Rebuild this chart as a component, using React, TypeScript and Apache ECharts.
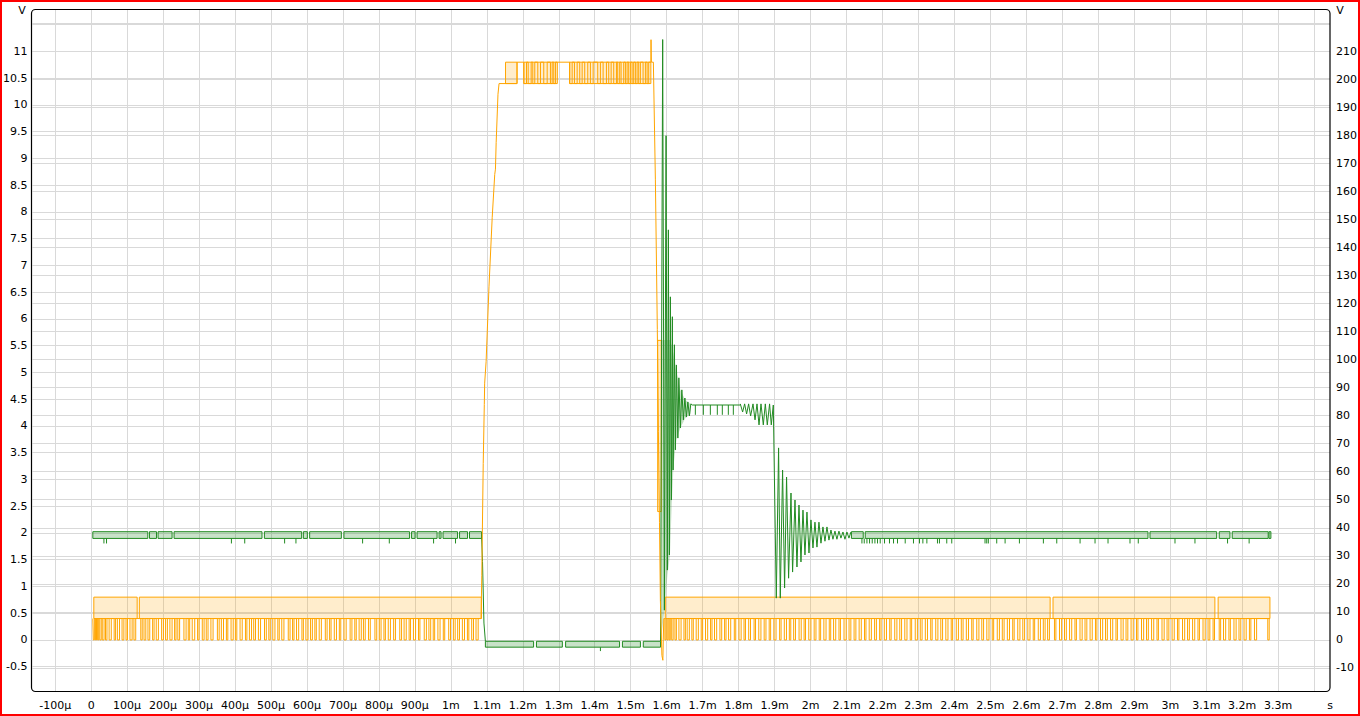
import React, { useEffect, useRef } from "react";
import * as echarts from "echarts";

// ---------- axes ----------
const X_MIN = -163;
const X_MAX = 3444;
const LEFT_MIN = -0.973;
const LEFT_MAX = 11.794;
const RIGHT_MIN = -18.6;
const RIGHT_MAX = 225.1;

const xTicks = [-100, 0, 100, 200, 300, 400, 500, 600, 700, 800, 900, 1000, 1100, 1200, 1300, 1400, 1500, 1600, 1700, 1800, 1900, 2000, 2100, 2200, 2300, 2400, 2500, 2600, 2700, 2800, 2900, 3000, 3100, 3200, 3300, 3400];
const xLabels = [-100, 0, 100, 200, 300, 400, 500, 600, 700, 800, 900, 1000, 1100, 1200, 1300, 1400, 1500, 1600, 1700, 1800, 1900, 2000, 2100, 2200, 2300, 2400, 2500, 2600, 2700, 2800, 2900, 3000, 3100, 3200, 3300];
const leftTicks = [-0.5, 0, 0.5, 1, 1.5, 2, 2.5, 3, 3.5, 4, 4.5, 5, 5.5, 6, 6.5, 7, 7.5, 8, 8.5, 9, 9.5, 10, 10.5, 11, 11.5];
const leftLabels = [-0.5, 0, 0.5, 1, 1.5, 2, 2.5, 3, 3.5, 4, 4.5, 5, 5.5, 6, 6.5, 7, 7.5, 8, 8.5, 9, 9.5, 10, 10.5, 11];
const rightTicks = [-10, 0, 10, 20, 30, 40, 50, 60, 70, 80, 90, 100, 110, 120, 130, 140, 150, 160, 170, 180, 190, 200, 210, 220];
const rightLabels = [-10, 0, 10, 20, 30, 40, 50, 60, 70, 80, 90, 100, 110, 120, 130, 140, 150, 160, 170, 180, 190, 200, 210];

// ---------- orange channel (left axis, V; time in µs) ----------
const orangeBands = [
  [7.5, 128, 0.4, 0.8], [134, 1085, 0.4, 0.8],
  [1152, 1184, 10.4, 10.8], [1203, 1296, 10.4, 10.8], [1330, 1556, 10.4, 10.8],
  [1575, 1585, 2.4, 5.6],
  [1596, 2666, 0.4, 0.8], [2674, 3124, 0.4, 0.8], [3133, 3277, 0.4, 0.8],
];
const orangePulses1 = [
  [6, 9], [12, 15], [18, 21], [24, 28], [31, 36], [40, 44], [50, 56], [64, 68], [73, 79], [86, 91], [97, 101], [108, 114], [119, 124],
  [138, 142], [147, 152], [158, 163], [171, 175], [181, 187], [196, 201], [207, 212], [219, 225], [232, 236], [241, 246], [258, 264],
  [270, 274], [281, 288], [296, 300], [309, 314], [320, 325], [333, 339], [351, 356], [362, 368], [376, 380], [389, 395], [401, 405],
  [414, 420], [429, 433], [440, 446], [452, 457], [465, 471], [482, 487], [494, 498], [505, 511], [519, 523], [530, 536], [548, 553],
  [560, 564], [571, 577], [586, 590], [597, 603], [610, 615], [622, 626], [634, 640], [651, 656], [663, 667], [676, 682], [690, 694],
  [703, 709], [720, 725], [733, 737], [745, 751], [757, 762], [771, 776], [789, 794], [801, 806], [814, 818], [826, 832], [841, 846],
  [858, 863], [870, 876], [884, 888], [896, 902], [910, 914], [926, 932], [939, 944], [951, 955], [964, 970], [979, 983], [994, 999],
  [1007, 1012], [1019, 1024], [1032, 1038], [1046, 1050], [1058, 1063], [1070, 1076],
];
const orangeRise = [
  [1084, 0.4], [1086, 1.2], [1090, 3.3], [1093, 4.4], [1094, 4.8], [1098, 5.2], [1106, 6.6], [1115, 7.9], [1122, 8.7],
  [1124, 8.8], [1126, 9.3], [1131, 10.2], [1134, 10.4], [1184, 10.4], [1184, 10.8],
];
const orangeTopPulses = [
  [1202.8, 1210.3], [1215, 1223.3], [1227.8, 1233.3], [1241.7, 1249.2], [1258.3, 1267.8], [1276.9, 1281.7], [1286.1, 1290.8],
  [1330.6, 1337.2], [1343.6, 1351.1], [1358.3, 1365], [1372.2, 1380.6], [1388, 1395.6], [1408.3, 1415.8], [1423.3, 1432.5],
  [1438.9, 1445.6], [1452.8, 1460.3], [1463.9, 1469.4], [1473.3, 1480.6], [1485.3, 1490], [1494.4, 1499.2], [1503.9, 1508.3],
  [1513, 1517.8], [1522.2, 1526.9], [1534.4, 1540.8], [1545.6, 1550],
];
const orangeFall = [
  [1556, 10.8], [1556.5, 11.22], [1557.5, 10.8], [1563, 10.8], [1568.6, 8.6], [1574, 5.8], [1577, 3.9], [1580, 2.2],
  [1582.5, 0.74], [1586.7, -0.29], [1589.4, -0.38], [1590.5, 0], [1592, 0.4],
];
const orangePulses2 = [
  [1595, 1598], [1601, 1604], [1607, 1610], [1614, 1618], [1623, 1627], [1634, 1640], [1648, 1652], [1657, 1663], [1670, 1674],
  [1682, 1688], [1696, 1700], [1708, 1714], [1722, 1726], [1733, 1739], [1748, 1753], [1761, 1765], [1772, 1778], [1788, 1792],
  [1801, 1807], [1815, 1819], [1828, 1833], [1843, 1847], [1856, 1862], [1871, 1876], [1885, 1889], [1898, 1904], [1914, 1918],
  [1927, 1933], [1941, 1945], [1953, 1958], [1968, 1974], [1982, 1986], [1995, 2001], [2010, 2015], [2024, 2028], [2037, 2043],
  [2052, 2056], [2064, 2070], [2079, 2083], [2093, 2099], [2107, 2112], [2121, 2126], [2135, 2141], [2150, 2154], [2163, 2169],
  [2178, 2183], [2192, 2196], [2205, 2211], [2220, 2224], [2234, 2240], [2248, 2253], [2262, 2268], [2277, 2281], [2291, 2297],
  [2305, 2310], [2319, 2325], [2334, 2338], [2348, 2354], [2362, 2367], [2376, 2382], [2391, 2395], [2405, 2411], [2419, 2424],
  [2433, 2439], [2448, 2452], [2462, 2468], [2476, 2481], [2490, 2496], [2505, 2509], [2519, 2525], [2533, 2538], [2547, 2553],
  [2562, 2566], [2576, 2582], [2590, 2595], [2604, 2610], [2619, 2623], [2633, 2639], [2647, 2652], [2659, 2664], [2678, 2682],
  [2692, 2698], [2706, 2711], [2720, 2726], [2735, 2739], [2749, 2755], [2763, 2768], [2777, 2783], [2792, 2796], [2806, 2812],
  [2820, 2825], [2834, 2840], [2849, 2853], [2863, 2869], [2877, 2882], [2891, 2897], [2906, 2910], [2920, 2926], [2934, 2939],
  [2948, 2954], [2963, 2967], [2977, 2983], [2991, 2996], [3005, 3011], [3020, 3024], [3034, 3040], [3048, 3053], [3062, 3068],
  [3077, 3081], [3091, 3097], [3105, 3110], [3119, 3123], [3136, 3140], [3148, 3154], [3163, 3167], [3177, 3183], [3191, 3196],
  [3205, 3211], [3220, 3224], [3234, 3240], [3271, 3275],
];

// ---------- green channel (right axis, V; time in µs) ----------
const GREEN_HI = 38.6;
const GREEN_LO = 36.2;
const GREEN_SPIKE = 34.4;
const LOW_HI = -0.5;
const LOW_LO = -2.6;
const LOW_SPIKE = -4;
const PLAT_HI = 83.8;
const PLAT_TICK = 80.3;

const greenBoxes1 = [
  [4.7, 157.5], [162.2, 181.7], [186.1, 225], [230.6, 475], [481.7, 585.3], [590, 601.1], [607.5, 695.6], [702.8, 885.3],
  [890.8, 900.6], [906.1, 961.7], [967.2, 972.8], [978.3, 1018.6], [1024.2, 1046.4], [1051.9, 1085.3],
];
const greenBoxesLow = [[1096, 1230], [1238, 1310], [1319, 1469], [1477, 1527], [1535, 1583]];
const greenBoxes3 = [[2113.6, 2146.4], [2152, 2938], [2943.6, 3128.9], [3136.1, 3165.8], [3172.2, 3272.2], [3274.5, 3279.7]];
const greenSpikes1 = [35.6, 42.8, 390, 427, 537.9, 569.4, 754.7, 828.9, 952, 1013];
const greenSpikesLow = [1415.8];
const greenPlateauTicks = [1679.7, 1702, 1721.4, 1740.8, 1754.7, 1771.4, 1785.3];
const greenSpikes3 = [
  2142.8, 2149.2, 2156.7, 2164, 2171.4, 2178.9, 2186.1, 2193.6, 2205.6, 2219.4, 2230.6, 2241.7, 2263.1, 2286.1, 2302.8,
  2312.2, 2323.3, 2352.8, 2358.3, 2378.6, 2392.5, 2485, 2489.7, 2494.2, 2517.5, 2540.8, 2580.6, 2647.2, 2684.4, 2749.2,
  2790.8, 2826.9, 2888, 2911, 3013.1, 3068.6, 3159.2, 3219.2,
];
const greenFall = [[1085.3, 37.4], [1088, 28], [1092, 6], [1096, -0.5]];
const greenRing = [
  [1583, -0.5], [1584, -0.5], [1588.9, 214.2], [1593.6, 10.6], [1598.3, 179.9], [1601.9, 24.9], [1604.7, 146.3], [1607.5, 30.3],
  [1610.3, 122.4], [1613.1, 49.9], [1615.8, 115.3], [1617.8, 60.6], [1621.4, 105.3], [1624.2, 67.8], [1627, 98.1], [1631.1, 72],
  [1633.9, 93.5], [1638.1, 75.6], [1642.2, 89.2], [1646.4, 78.5], [1650.6, 86.3], [1654.7, 79.5], [1658.9, 84.9], [1663.1, 79.9],
  [1667.2, 84.2], [1671.4, 83.8], [1804.7, 84.2], [1811.1, 81.3], [1816.7, 84.2], [1822.2, 80.6], [1827.8, 84.2], [1833.3, 79.9],
  [1840, 84.2], [1845.6, 78.5], [1851.1, 84.2], [1856.7, 76.7], [1862.2, 84.2], [1868.6, 76.7], [1874.2, 84.2], [1879.7, 76.7],
  [1886.1, 84.2], [1890.8, 76.7], [1896.4, 83.8], [1904.7, 14.9], [1911.1, 68.5], [1915.8, 14.9], [1922.2, 60.6], [1927.8, 18.5],
  [1933.3, 58.1], [1938.9, 22], [1945.6, 52.4], [1950, 24.2], [1956.7, 49.9], [1962.2, 26], [1967.8, 48.1], [1973.3, 27.8],
  [1978.9, 46.3], [1984.4, 30.3], [1990, 45.6], [1995.6, 31], [2001.1, 42.8], [2006.7, 32.8], [2012.2, 42], [2017.8, 33.1],
  [2023.3, 42], [2028.9, 34.5], [2034.4, 40.3], [2040, 35.2], [2045.6, 40.3], [2051.1, 35.6], [2056.7, 39.2], [2062.2, 35.9],
  [2067.8, 38.8], [2073.3, 35.9], [2078.9, 38.8], [2084.4, 36.3], [2090, 38.5], [2095.6, 35.9], [2101.1, 38.5], [2106.7, 36.3],
  [2112.2, 38.5],
];
const greenRingBand = [
  [1584, 0, 107], [1594, 10.6, 107], [1602, 23, 107], [1609, 30, 107], [1614, 48, 105], [1619, 62, 102],
  [1627, 71.3, 95.6], [1638, 75.6, 89.2], [1652, 79.2, 85.6], [1666, 80.6, 84.2],
];

const ORANGE = "#FFA500";
const ORANGE_FILL = "rgba(255,165,0,0.2)";
const GREEN = "#228B22";
const GREEN_FILL = "rgba(34,139,34,0.25)";
const GRID = "#d9d9d9";
const FONT = "DejaVu Sans";

function pulseLine(start: number, end: number, base: number, low: number, pulses: number[][]) {
  const pts: number[][] = [[start, base]];
  for (const [a, b] of pulses) pts.push([a, base], [a, low], [b, low], [b, base]);
  pts.push([end, base]);
  return pts;
}

function fmtX(v: number) {
  if (v === 0) return "0";
  if (Math.abs(v) < 1000) return `${v}µ`;
  return `${+(v / 1000).toFixed(1)}m`;
}

function boxSeries(data: number[][], yAxisIndex: number, stroke: string | null, fill: string, z: number) {
  return {
    type: "custom",
    xAxisIndex: 0,
    yAxisIndex,
    z,
    silent: true,
    data,
    encode: { x: [0, 1], y: [2, 3] },
    renderItem: (_p: any, api: any) => {
      const p0 = api.coord([api.value(0), api.value(3)]);
      const p1 = api.coord([api.value(1), api.value(2)]);
      return {
        type: "rect",
        shape: { x: p0[0], y: p0[1], width: p1[0] - p0[0], height: p1[1] - p0[1] },
        style: { fill, stroke: stroke || "none", lineWidth: 1 },
      };
    },
  };
}

function tickSeries(times: number[], from: number, to: number, yAxisIndex: number, stroke: string) {
  return {
    type: "custom",
    xAxisIndex: 0,
    yAxisIndex,
    z: 3,
    silent: true,
    data: times.map((t) => [t, from, to]),
    encode: { x: 0, y: [1, 2] },
    renderItem: (_p: any, api: any) => {
      const a = api.coord([api.value(0), api.value(1)]);
      const b = api.coord([api.value(0), api.value(2)]);
      return { type: "line", shape: { x1: a[0], y1: a[1], x2: b[0], y2: b[1] }, style: { stroke, lineWidth: 1 } };
    },
  };
}

function lineSeries(data: number[][], yAxisIndex: number, color: string) {
  return {
    type: "line",
    xAxisIndex: 0,
    yAxisIndex,
    data,
    symbol: "none",
    showSymbol: false,
    z: 4,
    silent: true,
    lineStyle: { color, width: 1 },
    itemStyle: { color },
  };
}

export default function App() {
  const ref = useRef<HTMLDivElement>(null);
  useEffect(() => {
    if (!ref.current) return;
    const chart = echarts.init(ref.current, null, { renderer: "svg" });

    const orangeSignal = [
      ...pulseLine(4.7, 1084, 0.4, 0, orangePulses1),
      ...orangeRise,
      ...pulseLine(1184, 1556, 10.8, 10.4, orangeTopPulses),
      ...orangeFall,
      ...pulseLine(1592, 3277, 0.4, 0, orangePulses2),
    ];
    const greenBoxData = [
      ...greenBoxes1.map(([a, b]) => [a, b, GREEN_LO, GREEN_HI]),
      ...greenBoxesLow.map(([a, b]) => [a, b, LOW_LO, LOW_HI]),
      ...greenBoxes3.map(([a, b]) => [a, b, GREEN_LO, GREEN_HI]),
    ];
    const plateau = [[1671.4, PLAT_HI], [1804.7, PLAT_HI]];

    const labelStyle = { color: "#000", fontSize: 11, fontFamily: FONT };

    chart.setOption({
      animation: false,
      backgroundColor: "#fff",
      grid: { left: 32, right: 30, top: 9, bottom: 24, containLabel: false },
      xAxis: {
        type: "value",
        min: X_MIN,
        max: X_MAX,
        axisLine: { show: false },
        axisTick: { show: false, customValues: xTicks },
        axisLabel: { ...labelStyle, customValues: xLabels, formatter: fmtX, margin: 8 },
        splitLine: { show: true, lineStyle: { color: GRID, width: 1 } },
      },
      yAxis: [
        {
          type: "value",
          position: "left",
          min: LEFT_MIN,
          max: LEFT_MAX,
          axisLine: { show: false },
          axisTick: { show: false, customValues: leftTicks },
          axisLabel: { ...labelStyle, customValues: leftLabels, formatter: (v: number) => String(v), margin: 5 },
          splitLine: { show: true, lineStyle: { color: GRID, width: 1 } },
        },
        {
          type: "value",
          position: "right",
          min: RIGHT_MIN,
          max: RIGHT_MAX,
          axisLine: { show: false },
          axisTick: { show: false, customValues: rightTicks },
          axisLabel: { ...labelStyle, customValues: rightLabels, formatter: (v: number) => String(v), margin: 6 },
          splitLine: { show: true, lineStyle: { color: GRID, width: 1 } },
        },
      ],
      graphic: [
        {
          type: "rect",
          z: 100,
          silent: true,
          shape: { x: 31.5, y: 9.5, width: 1298.5, height: 682, r: 4 },
          style: { fill: "none", stroke: "#000", lineWidth: 1.2 },
        },
        {
          type: "rect",
          z: 100,
          silent: true,
          shape: { x: 1, y: 1, width: 1358, height: 714 },
          style: { fill: "none", stroke: "#ff0000", lineWidth: 2 },
        },
        {
          type: "text",
          z: 100,
          x: 22,
          y: 10,
          style: { text: "V", fill: "#000", font: `11px ${FONT}`, align: "center", verticalAlign: "middle", textAlign: "center", textVerticalAlign: "middle" },
        },
        {
          type: "text",
          z: 100,
          x: 1340,
          y: 10,
          style: { text: "V", fill: "#000", font: `11px ${FONT}`, align: "center", verticalAlign: "middle", textAlign: "center", textVerticalAlign: "middle" },
        },
        {
          type: "text",
          z: 100,
          x: 1330,
          y: 705,
          style: { text: "s", fill: "#000", font: `11px ${FONT}`, align: "center", verticalAlign: "middle", textAlign: "center", textVerticalAlign: "middle" },
        },
      ],
      series: [
        boxSeries(orangeBands, 0, ORANGE, ORANGE_FILL, 2),
        boxSeries(greenBoxData, 1, GREEN, GREEN_FILL, 2),
        {
          type: "custom",
          xAxisIndex: 0,
          yAxisIndex: 1,
          z: 1,
          silent: true,
          data: greenRingBand,
          encode: { x: 0, y: [1, 2] },
          renderItem: (p: any, api: any) => {
            if (p.dataIndex !== 0) return null;
            const top = greenRingBand.map((d) => api.coord([d[0], d[2]]));
            const bot = greenRingBand.slice().reverse().map((d) => api.coord([d[0], d[1]]));
            return { type: "polygon", shape: { points: top.concat(bot) }, style: { fill: GREEN_FILL } };
          },
        },
        tickSeries(greenSpikes1, GREEN_LO, GREEN_SPIKE, 1, GREEN),
        tickSeries(greenSpikesLow, LOW_LO, LOW_SPIKE, 1, GREEN),
        tickSeries(greenPlateauTicks, PLAT_HI, PLAT_TICK, 1, GREEN),
        tickSeries(greenSpikes3, GREEN_LO, GREEN_SPIKE, 1, GREEN),
        lineSeries(greenFall, 1, GREEN),
        lineSeries(greenRing.slice(0, 26), 1, GREEN),
        lineSeries(plateau, 1, GREEN),
        lineSeries(greenRing.slice(26), 1, GREEN),
        lineSeries(orangeSignal, 0, ORANGE),
      ],
    });
    return () => chart.dispose();
  }, []);
  return <div ref={ref} style={{ position: "fixed", left: 0, top: 0, width: 1360, height: 716 }} />;
}
